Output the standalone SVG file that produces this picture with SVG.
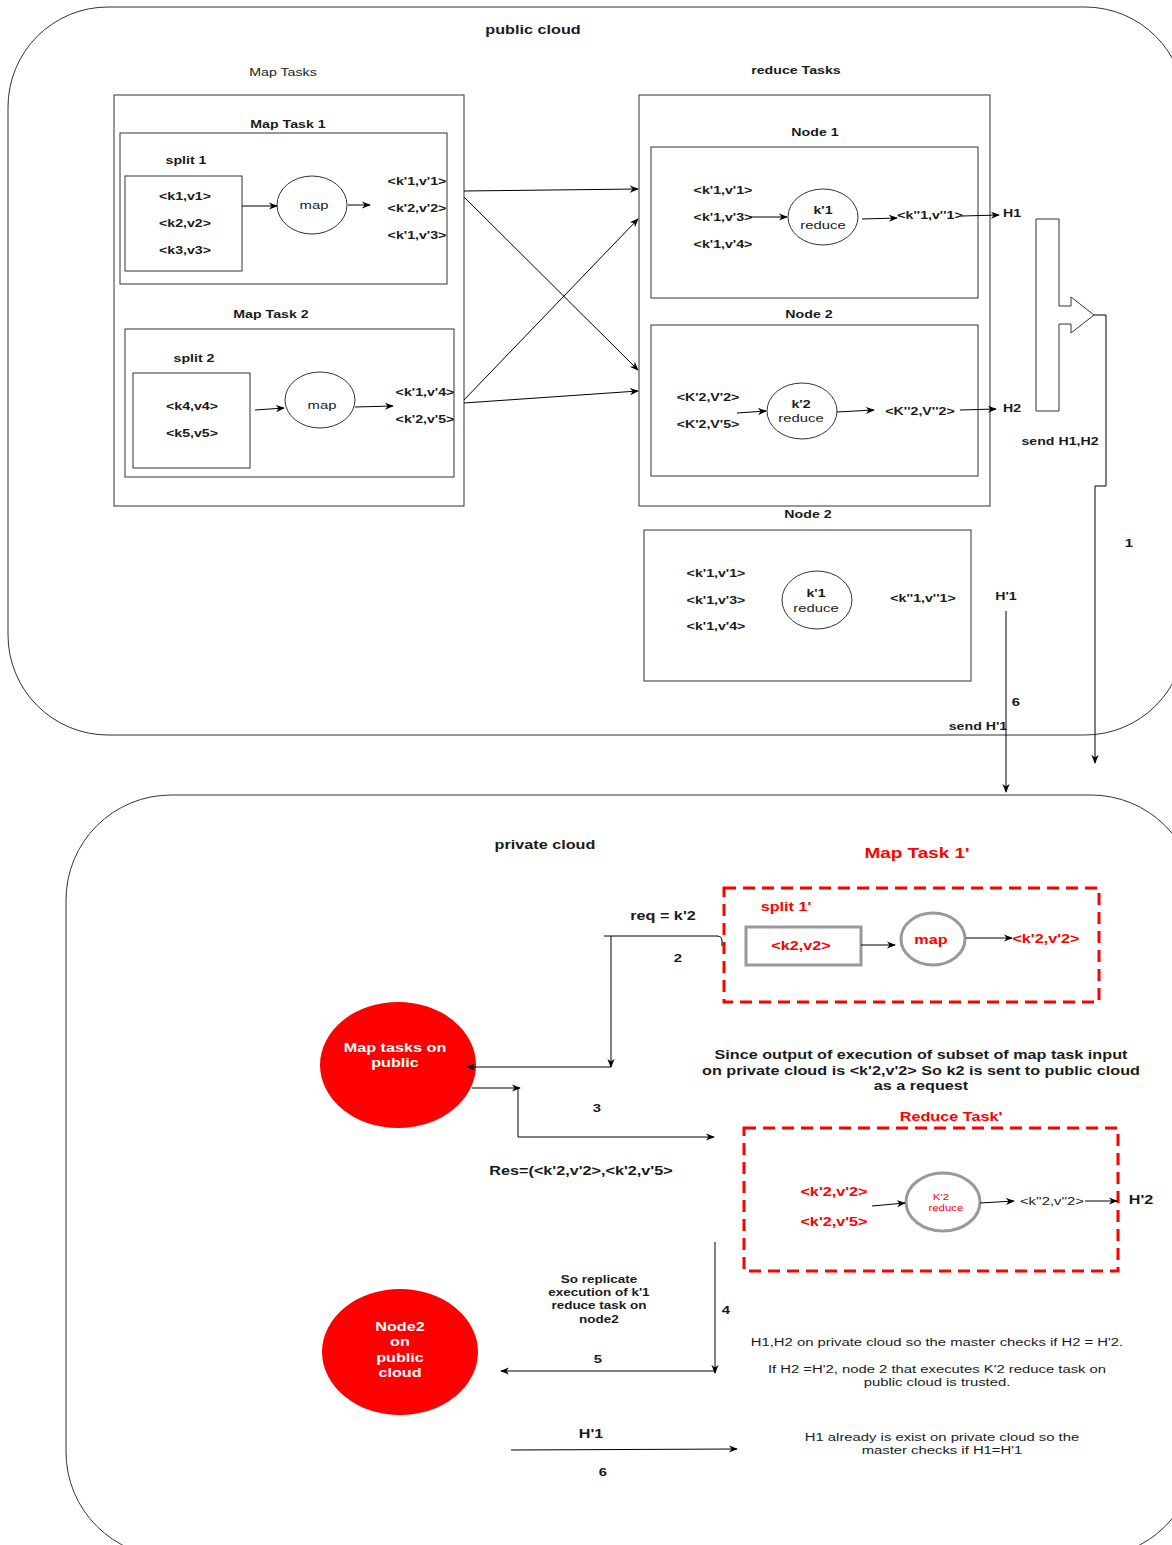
<svg xmlns="http://www.w3.org/2000/svg" width="1172" height="1545" viewBox="0 0 1172 1545">
<defs>
<style>
.t{font-family:"Liberation Sans",Arial,sans-serif;font-size:10.5px;font-weight:bold;fill:#1a1a1a;text-anchor:middle;dominant-baseline:central;transform-box:fill-box;transform-origin:center;transform:scaleX(1.35)}
.n{font-weight:normal}
.s11{font-size:11px}
.s12{font-size:12px}
.s14{font-size:14px}
.s10{font-size:10px}
.s8{font-size:8.5px}
.r{fill:#ff0000}
.w{fill:#ffffff;font-size:12px}
.box{fill:none;stroke:#333;stroke-width:1}
.cloud{fill:#ffffff;stroke:#333;stroke-width:1}
.ell{fill:#ffffff;stroke:#333;stroke-width:1}
.ln{fill:none;stroke:#000;stroke-width:1}
.arr{marker-end:url(#ah)}
.dash{fill:none;stroke:#ff0000;stroke-width:3;stroke-dasharray:12 7}
.gray{fill:#ffffff;stroke:#999;stroke-width:3}
.red{fill:#ff0000;stroke:none}
</style>
<marker id="ah" viewBox="0 0 10 10" refX="9" refY="5" markerWidth="9" markerHeight="9" markerUnits="userSpaceOnUse" orient="auto"><path d="M0,1 L10,5 L0,9 L3,5 Z" fill="#000"/></marker>
</defs>
<rect x="0" y="0" width="1172" height="1545" fill="#ffffff"/>

<g id="public-cloud">
<rect class="cloud" x="8" y="7" width="1177" height="728" rx="100"/>
<text class="t s12" x="533" y="30">public cloud</text>
</g>

<g id="private-cloud">
<rect class="cloud" x="66" y="795" width="1130" height="762" rx="105"/>
<text class="t s12" x="545" y="845">private cloud</text>
</g>

<g id="map-tasks">
<text class="t n" x="283" y="73">Map Tasks</text>
<rect class="box" x="114" y="95" width="350" height="411"/>
</g>

<g id="map-task-1">
<text class="t" x="288" y="125">Map Task 1</text>
<rect class="box" x="120" y="133" width="327" height="151"/>
<text class="t" x="186" y="161">split 1</text>
<rect class="box" x="125" y="176" width="117" height="95"/>
<text class="t" x="185" y="197">&lt;k1,v1&gt;</text>
<text class="t" x="185" y="224">&lt;k2,v2&gt;</text>
<text class="t" x="185" y="251">&lt;k3,v3&gt;</text>
<ellipse class="ell" cx="312" cy="205" rx="35" ry="29"/>
<text class="t n s11" x="314" y="205">map</text>
<text class="t" x="417" y="182">&lt;k'1,v'1&gt;</text>
<text class="t" x="417" y="209">&lt;k'2,v'2&gt;</text>
<text class="t" x="417" y="236">&lt;k'1,v'3&gt;</text>
</g>

<g id="map-task-2">
<text class="t" x="271" y="315">Map Task 2</text>
<rect class="box" x="125" y="329" width="329" height="148"/>
<text class="t" x="194" y="359">split 2</text>
<rect class="box" x="133" y="373" width="117" height="95"/>
<text class="t" x="192" y="407">&lt;k4,v4&gt;</text>
<text class="t" x="192" y="434">&lt;k5,v5&gt;</text>
<ellipse class="ell" cx="320" cy="400" rx="35" ry="28"/>
<text class="t n s11" x="322" y="405">map</text>
<text class="t" x="425" y="393">&lt;k'1,v'4&gt;</text>
<text class="t" x="425" y="420">&lt;k'2,v'5&gt;</text>
</g>

<g id="reduce-tasks">
<text class="t" x="796" y="71">reduce Tasks</text>
<rect class="box" x="639" y="95" width="351" height="411"/>
</g>

<g id="node-1">
<text class="t" x="815" y="133">Node 1</text>
<rect class="box" x="651" y="147" width="327" height="151"/>
<text class="t" x="723" y="191">&lt;k'1,v'1&gt;</text>
<text class="t" x="723" y="218">&lt;k'1,v'3&gt;</text>
<text class="t" x="723" y="245">&lt;k'1,v'4&gt;</text>
<ellipse class="ell" cx="823" cy="217" rx="35" ry="28"/>
<text class="t" x="823" y="211">k'1</text>
<text class="t n s11" x="823" y="225">reduce</text>
<text class="t" x="930" y="216">&lt;k''1,v''1&gt;</text>
<text class="t" x="1012" y="214">H1</text>
</g>

<g id="node-2">
<text class="t" x="809" y="315">Node 2</text>
<rect class="box" x="651" y="325" width="327" height="151"/>
<text class="t" x="708" y="398">&lt;K'2,V'2&gt;</text>
<text class="t" x="708" y="425">&lt;K'2,V'5&gt;</text>
<ellipse class="ell" cx="802" cy="411" rx="35" ry="28"/>
<text class="t" x="801" y="405">k'2</text>
<text class="t n s11" x="801" y="418">reduce</text>
<text class="t" x="920" y="412">&lt;K''2,V''2&gt;</text>
<text class="t" x="1012" y="409">H2</text>
</g>

<g id="hash-combiner">
<path class="box" d="M1036,219 H1059 V306 H1071 V297 L1094,315 L1071,333 V324 H1059 V411 H1036 Z"/>
<text class="t" x="1060" y="442">send H1,H2</text>
<text class="t s11" x="1129" y="543">1</text>
</g>

<g id="node-2-replica">
<text class="t" x="808" y="515">Node 2</text>
<rect class="box" x="644" y="530" width="327" height="151"/>
<text class="t" x="716" y="574">&lt;k'1,v'1&gt;</text>
<text class="t" x="716" y="601">&lt;k'1,v'3&gt;</text>
<text class="t" x="716" y="627">&lt;k'1,v'4&gt;</text>
<ellipse class="ell" cx="817" cy="600" rx="35" ry="29"/>
<text class="t" x="816" y="594">k'1</text>
<text class="t n s11" x="816" y="608">reduce</text>
<text class="t" x="923" y="599">&lt;k''1,v''1&gt;</text>
<text class="t" x="1006" y="597">H'1</text>
<text class="t s11" x="1016" y="702">6</text>
<text class="t" x="978" y="727">send H'1</text>
</g>

<g id="map-task-1-prime">
<text class="t r s14" x="917" y="853">Map Task 1'</text>
<rect class="dash" x="724" y="888" width="375" height="114"/>
<text class="t r s12" x="786" y="907">split 1'</text>
<rect class="gray" x="746" y="927" width="115" height="38"/>
<text class="t r s12" x="801" y="946">&lt;k2,v2&gt;</text>
<ellipse class="gray" cx="933" cy="939" rx="32" ry="26"/>
<text class="t r s12" x="931" y="940">map</text>
<text class="t r s12" x="1046" y="939">&lt;k'2,v'2&gt;</text>
</g>

<g id="request-label">
<text class="t s12" x="663" y="916">req = k'2</text>
<text class="t s11" x="678" y="958">2</text>
</g>

<g id="map-tasks-on-public">
<ellipse class="red" cx="398" cy="1065" rx="78" ry="63"/>
<text class="t w" x="395" y="1048">Map tasks on</text>
<text class="t w" x="395" y="1063">public</text>
</g>

<g id="explanation-1">
<text class="t s12" x="921" y="1055">Since output of execution of subset of map task input</text>
<text class="t s12" x="921" y="1071">on private cloud is &lt;k'2,v'2&gt; So k2 is sent to public cloud</text>
<text class="t s12" x="921" y="1086">as a request</text>
</g>

<g id="result-label">
<text class="t s11" x="597" y="1108">3</text>
<text class="t s12" x="581" y="1171">Res=(&lt;k'2,v'2&gt;,&lt;k'2,v'5&gt;</text>
</g>

<g id="reduce-task-prime">
<text class="t r s12" x="951" y="1117">Reduce Task'</text>
<rect class="dash" x="744" y="1128" width="374" height="143"/>
<text class="t r s12" x="834" y="1192">&lt;k'2,v'2&gt;</text>
<text class="t r s12" x="834" y="1222">&lt;k'2,v'5&gt;</text>
<ellipse class="gray" cx="943" cy="1202" rx="37" ry="29"/>
<text class="t r n s8" x="941" y="1197">K'2</text>
<text class="t r n s8" x="946" y="1208">reduce</text>
<text class="t n s11" x="1052" y="1201">&lt;k''2,v''2&gt;</text>
<text class="t s12" x="1141" y="1200">H'2</text>
</g>

<g id="replicate-label">
<text class="t s10" x="599" y="1280">So replicate</text>
<text class="t s10" x="599" y="1293">execution of k'1</text>
<text class="t s10" x="599" y="1306">reduce task on</text>
<text class="t s10" x="599" y="1320">node2</text>
<text class="t s11" x="726" y="1310">4</text>
<text class="t s11" x="598" y="1359">5</text>
</g>

<g id="node2-on-public">
<ellipse class="red" cx="400" cy="1352" rx="78" ry="63"/>
<text class="t w" x="400" y="1327">Node2</text>
<text class="t w" x="400" y="1342">on</text>
<text class="t w" x="400" y="1358">public</text>
<text class="t w" x="400" y="1373">cloud</text>
</g>

<g id="explanation-2">
<text class="t n s11" x="937" y="1342">H1,H2 on private cloud so the master checks if H2 = H'2.</text>
<text class="t n s11" x="937" y="1369">If H2 =H'2, node 2 that executes K'2 reduce task on</text>
<text class="t n s11" x="937" y="1382">public cloud is trusted.</text>
</g>

<g id="h1-label">
<text class="t s12" x="591" y="1434">H'1</text>
<text class="t s11" x="603" y="1472">6</text>
</g>

<g id="explanation-3">
<text class="t n s11" x="942" y="1437">H1 already is exist on private cloud so the</text>
<text class="t n s11" x="942" y="1450">master checks if H1=H'1</text>
</g>

<g id="connectors">
<path class="ln arr" d="M242,206 L277,206"/>
<path class="ln arr" d="M348,205 L370,205"/>
<path class="ln arr" d="M255,410 L284,408"/>
<path class="ln arr" d="M355,407 L393,406"/>
<path class="ln arr" d="M464,191 L638,189"/>
<path class="ln arr" d="M464,197 L638,370"/>
<path class="ln arr" d="M464,400 L638,219"/>
<path class="ln arr" d="M464,403 L638,391"/>
<path class="ln arr" d="M750,217 L787,217"/>
<path class="ln arr" d="M862,219 L897,218"/>
<path class="ln arr" d="M962,216 L999,215"/>
<path class="ln arr" d="M737,413 L766,411"/>
<path class="ln arr" d="M837,412 L874,410"/>
<path class="ln arr" d="M960,410 L996,409"/>
<path class="ln arr" d="M1094,315 H1106 V486 H1095 V763"/>
<path class="ln arr" d="M1006,611 V792"/>
<path class="ln" d="M722,946 V941 Q722,936 717,936 H604"/>
<path class="ln arr" d="M611,936 V1067"/>
<path class="ln arr" d="M611,1067 H467"/>
<path class="ln arr" d="M472,1088 H520"/>
<path class="ln arr" d="M518,1088 V1137 H714"/>
<path class="ln arr" d="M861,945 H895"/>
<path class="ln arr" d="M966,938 H1012"/>
<path class="ln arr" d="M872,1206 L905,1203"/>
<path class="ln arr" d="M980,1203 L1014,1201"/>
<path class="ln arr" d="M1085,1201 H1117"/>
<path class="ln arr" d="M715,1242 V1373"/>
<path class="ln arr" d="M715,1371 H501"/>
<path class="ln arr" d="M511,1450 L737,1449"/>
</g>
</svg>
